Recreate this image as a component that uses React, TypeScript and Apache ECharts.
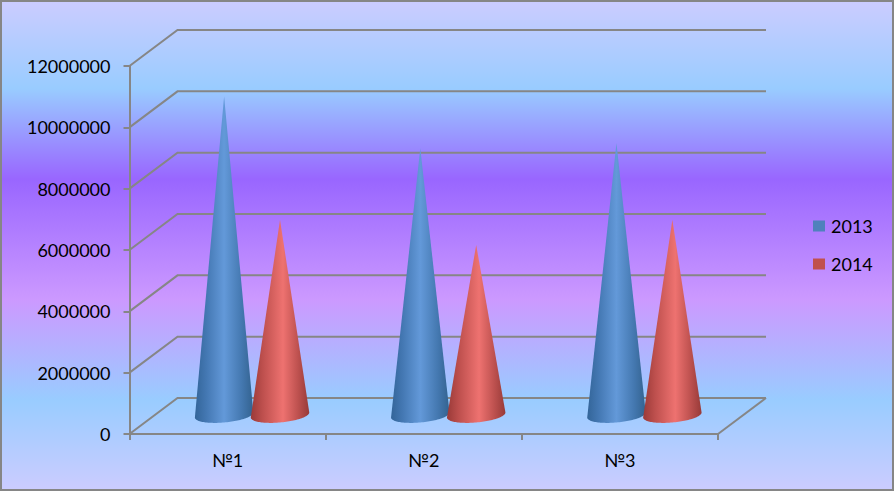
import React, { useEffect, useRef } from "react";
import * as echarts from "echarts";

const categories = ["№1", "№2", "№3"];
const seriesNames = ["2013", "2014"];
const values2013 = [10420000, 8730000, 8900000];
const values2014 = [6400000, 5580000, 6400000];
const yTicks = [0, 2000000, 4000000, 6000000, 8000000, 10000000, 12000000];

const DEPTH_X = 48;
const DEPTH_Y = 36;
const AXIS = "#868686";
const FONT = "Lato";

function coneItem(idx: number, stops: [number, string][]) {
  return (_p: any, api: any) => {
    const cat = api.value(0);
    const val = api.value(1);
    const band = api.size([1, 0])[0];
    const shift = idx === 0 ? -band * 0.14 : band * 0.145;
    const cx = api.coord([cat, 0])[0] + DEPTH_X / 2 + shift;
    const by = api.coord([cat, 0])[1] - DEPTH_Y / 2 - 1;
    const ty = api.coord([cat, val])[1] - DEPTH_Y / 2;
    const rx = band * 0.149;
    const ry = 7.5;
    const tilt = 2.5;
    const points: number[][] = [[cx, ty]];
    for (let a = 0; a <= 60; a++) {
      const t = Math.PI - (a / 60) * Math.PI;
      const c = Math.cos(t);
      points.push([cx + rx * c, by + ry * Math.sin(t) - tilt * c]);
    }
    return {
      type: "polygon",
      shape: { points },
      style: {
        fill: new echarts.graphic.LinearGradient(
          0,
          0,
          1,
          0,
          stops.map(([offset, color]) => ({ offset, color }))
        ),
      },
    };
  };
}

function wallItem(_p: any, api: any) {
  const v = api.value(0);
  const band = api.size([1, 0])[0];
  const [x0, y] = api.coord([0, v]);
  const [x2] = api.coord([2, v]);
  const left = x0 - band / 2;
  const right = x2 + band / 2;
  const lineStyle = { stroke: AXIS, lineWidth: 2, fill: "none" };
  const children: any[] = [
    {
      type: "polyline",
      shape: {
        points: [
          [left, y],
          [left + DEPTH_X, y - DEPTH_Y],
          [right + DEPTH_X, y - DEPTH_Y],
        ],
      },
      style: lineStyle,
    },
  ];
  if (v === 0) {
    children.push({
      type: "line",
      shape: { x1: right, y1: y, x2: right + DEPTH_X, y2: y - DEPTH_Y },
      style: lineStyle,
    });
  }
  return { type: "group", children };
}

export default function App() {
  const ref = useRef<HTMLDivElement>(null);
  useEffect(() => {
    document.body.style.margin = "0";
    const chart = echarts.init(ref.current!, null, { renderer: "svg" });
    chart.setOption({
      animation: false,
      backgroundColor: new echarts.graphic.LinearGradient(0, 0, 0, 1, [
        { offset: 0, color: "#ccccff" },
        { offset: 0.18, color: "#99ccff" },
        { offset: 0.365, color: "#9966ff" },
        { offset: 0.61, color: "#cc99ff" },
        { offset: 0.815, color: "#99ccff" },
        { offset: 1, color: "#ccccff" },
      ]),
      grid: { left: 129.5, right: 176, top: 66, bottom: 57 },
      legend: {
        data: seriesNames,
        orient: "vertical",
        left: 813,
        top: 217,
        padding: 0,
        itemWidth: 12,
        itemHeight: 11,
        itemGap: 20,
        icon: "rect",
        textStyle: { fontFamily: FONT, fontSize: 18, color: "#000", padding: [0, 0, 0, 1] },
      },
      xAxis: {
        type: "category",
        data: categories,
        axisLine: { lineStyle: { color: AXIS, width: 2 } },
        axisTick: { show: true, length: 6, lineStyle: { color: AXIS, width: 2 } },
        axisLabel: { fontFamily: FONT, fontSize: 18, color: "#000", margin: 17 },
      },
      yAxis: {
        type: "value",
        min: 0,
        max: 12000000,
        interval: 2000000,
        splitLine: { show: false },
        axisLine: { show: true, lineStyle: { color: AXIS, width: 2 } },
        axisTick: { show: true, length: 6, lineStyle: { color: AXIS, width: 2 } },
        axisLabel: {
          fontFamily: FONT,
          fontSize: 18,
          color: "#000",
          margin: 19,
          formatter: (v: number) => String(v),
        },
      },
      series: [
        {
          type: "custom",
          silent: true,
          renderItem: wallItem,
          data: yTicks.map((v) => [v]),
          encode: { y: 0 },
          z: 1,
        },
        {
          type: "custom",
          name: seriesNames[0],
          silent: true,
          renderItem: coneItem(0, [
            [0, "#336599"],
            [0.2, "#4478b3"],
            [0.5, "#6399d9"],
            [0.8, "#4478b0"],
            [1, "#33628f"],
          ]),
          itemStyle: { color: "#4f81bd" },
          data: values2013.map((v, i) => [i, v]),
          encode: { x: 0, y: 1 },
          z: 2,
        },
        {
          type: "custom",
          name: seriesNames[1],
          silent: true,
          renderItem: coneItem(1, [
            [0, "#9a3a38"],
            [0.2, "#bd4f4d"],
            [0.55, "#ee7270"],
            [0.8, "#bf5250"],
            [1, "#973a38"],
          ]),
          itemStyle: { color: "#c0504d" },
          data: values2014.map((v, i) => [i, v]),
          encode: { x: 0, y: 1 },
          z: 3,
        },
      ],
      graphic: [
        {
          type: "rect",
          silent: true,
          z: 100,
          shape: { x: 0, y: 0, width: 894, height: 491 },
          style: { fill: "none", stroke: AXIS, lineWidth: 4 },
        },
      ],
    });
    return () => chart.dispose();
  }, []);
  return <div ref={ref} style={{ width: 894, height: 491 }} />;
}
